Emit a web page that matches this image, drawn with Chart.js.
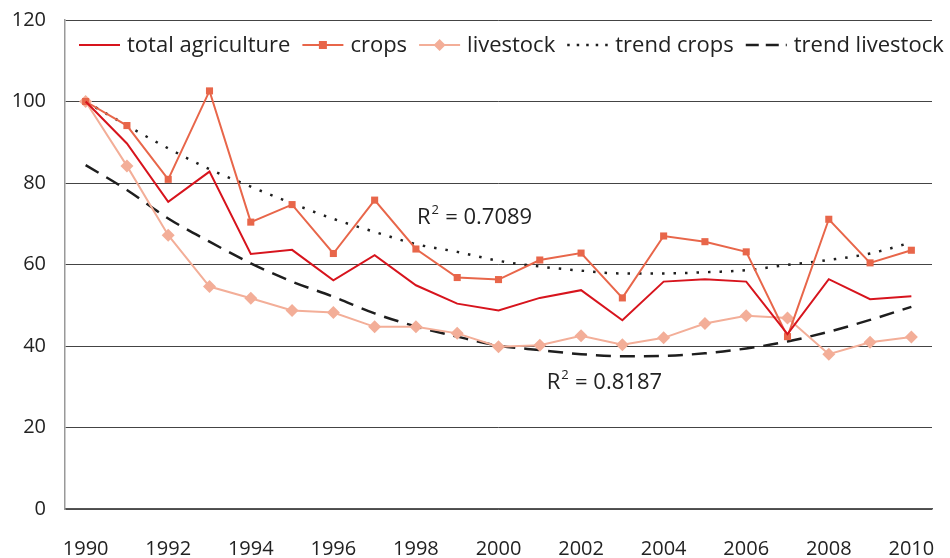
<!DOCTYPE html>
<html>
<head>
<meta charset="utf-8">
<script src="https://cdn.jsdelivr.net/npm/chart.js@4.4.0/dist/chart.umd.min.js"></script>
<style>
  html, body { margin: 0; padding: 0; background: #fff; }
  #wrap { width: 950px; height: 558px; }
</style>
</head>
<body>
<div id="wrap"><canvas id="line-chart"></canvas></div>
<script>
// Chart data
var years = ['1990', '1991', '1992', '1993', '1994', '1995', '1996', '1997', '1998', '1999', '2000',
             '2001', '2002', '2003', '2004', '2005', '2006', '2007', '2008', '2009', '2010'];
var totalAgriculture = [100, 89.7, 75.4, 82.8, 62.6, 63.6, 56.1, 62.3, 54.9, 50.4, 48.7,
                        51.8, 53.7, 46.3, 55.8, 56.4, 55.8, 42.9, 56.4, 51.5, 52.2];
var crops = [100, 94.1, 80.9, 102.6, 70.4, 74.7, 62.7, 75.8, 63.8, 56.8, 56.3,
             61.1, 62.8, 51.8, 67.0, 65.6, 63.1, 42.3, 71.1, 60.4, 63.5];
var livestock = [100, 84.2, 67.2, 54.6, 51.7, 48.7, 48.2, 44.7, 44.7, 43.1, 39.8,
                 40.2, 42.5, 40.3, 42.0, 45.5, 47.4, 46.9, 38.0, 40.9, 42.2];
var trendCrops = [100, 94.1, 88.5, 83.4, 79.1, 75.0, 71.2, 68.0, 65.0, 63.1, 60.9,
                  59.5, 58.5, 57.8, 57.8, 58.1, 58.6, 59.9, 61.1, 62.7, 65.4];
var trendLivestock = [84.4, 78.3, 71.3, 65.6, 60.3, 55.8, 52.1, 48.0, 44.8, 42.3, 40.1,
                      39.0, 38.0, 37.5, 37.6, 38.2, 39.4, 41.1, 43.5, 46.4, 49.6];
var yTicks = [0, 20, 40, 60, 80, 100, 120];
var r2Crops = '0.7089';
var r2Livestock = '0.8187';

var FONT = '"Open Sans", sans-serif';
var RED = '#d7141d', CROPS = '#e8664a', LIVE = '#f3ae98', TREND = '#1e1e1e';

// legend drawn inside the plot, one row
var legendItems = [
    { text: 'total agriculture', color: RED, dash: [], marker: null },
    { text: 'crops', color: CROPS, dash: [], marker: 'square' },
    { text: 'livestock', color: LIVE, dash: [], marker: 'diamond' },
    { text: 'trend crops', color: TREND, dash: [2.5, 7], marker: null },
    { text: 'trend livestock', color: TREND, dash: [13, 7], marker: null }
];

var legendPlugin = {
    id: 'inLegend',
    afterDraw: function(chart) {
        var ctx = chart.ctx;
        var x = 79, y = 45;
        ctx.save();
        ctx.font = '22px ' + FONT;
        ctx.textBaseline = 'middle';
        legendItems.forEach(function(it) {
            ctx.strokeStyle = it.color;
            ctx.lineWidth = it.dash.length ? 2.5 : 2;
            ctx.setLineDash(it.dash);
            ctx.beginPath();
            ctx.moveTo(x, y);
            ctx.lineTo(x + 41, y);
            ctx.stroke();
            ctx.setLineDash([]);
            ctx.fillStyle = it.color;
            if (it.marker === 'square') {
                ctx.fillRect(x + 20.5 - 4, y - 4, 8, 8);
            } else if (it.marker === 'diamond') {
                ctx.beginPath();
                ctx.moveTo(x + 20.5, y - 6);
                ctx.lineTo(x + 26.5, y);
                ctx.lineTo(x + 20.5, y + 6);
                ctx.lineTo(x + 14.5, y);
                ctx.closePath();
                ctx.fill();
            }
            ctx.fillStyle = '#222';
            ctx.fillText(it.text, x + 48, y + 1);
            x += 48 + ctx.measureText(it.text).width + 12;
        });
        ctx.restore();
    }
};

// R squared labels for the trend lines
var r2Plugin = {
    id: 'r2Labels',
    afterDraw: function(chart) {
        var ctx = chart.ctx;
        var xs = chart.scales.x, ys = chart.scales.y;
        function label(idx, val, txt, dx) {
            var px = xs.getPixelForValue(idx) + dx;
            var py = ys.getPixelForValue(val);
            ctx.fillStyle = '#222';
            ctx.textBaseline = 'alphabetic';
            ctx.font = '22px ' + FONT;
            ctx.fillText('R', px, py + 8);
            var w = ctx.measureText('R').width;
            ctx.font = '13px ' + FONT;
            ctx.fillText('2', px + w + 1, py - 2);
            ctx.font = '22px ' + FONT;
            ctx.fillText(' = ' + txt, px + w + 9, py + 8);
        }
        ctx.save();
        label(8, 72, r2Crops, 1);
        label(11, 31.5, r2Livestock, 7);
        ctx.restore();
    }
};

var ctx = document.getElementById('line-chart');

var chartData = {
    labels: years,
    datasets: [{
        label: 'total agriculture',
        data: totalAgriculture,
        borderColor: RED,
        borderWidth: 2,
        pointRadius: 0,
        tension: 0
    }, {
        label: 'crops',
        data: crops,
        borderColor: CROPS,
        backgroundColor: CROPS,
        borderWidth: 2,
        pointStyle: 'rect',
        pointRadius: 5,
        pointBorderWidth: 0,
        tension: 0
    }, {
        label: 'livestock',
        data: livestock,
        borderColor: LIVE,
        backgroundColor: LIVE,
        borderWidth: 2,
        pointStyle: 'rectRot',
        pointRadius: 6.5,
        pointBorderWidth: 0,
        tension: 0
    }, {
        label: 'trend crops',
        data: trendCrops,
        borderColor: TREND,
        borderWidth: 2.5,
        borderDash: [2.5, 9],
        pointRadius: 0,
        cubicInterpolationMode: 'monotone'
    }, {
        label: 'trend livestock',
        data: trendLivestock,
        borderColor: TREND,
        borderWidth: 2.5,
        borderDash: [15, 9],
        pointRadius: 0,
        cubicInterpolationMode: 'monotone'
    }]
};

var chartOptions = {
    responsive: true,
    maintainAspectRatio: false,
    animation: false,
    layout: { padding: { top: 20, right: 18, left: 0, bottom: 0 } },
    plugins: {
        legend: { display: false },
        tooltip: { enabled: false }
    },
    scales: {
        x: {
            offset: true,
            grid: { display: false, drawTicks: true, tickLength: 23 },
            border: { display: true, color: '#555', width: 1.5 },
            ticks: {
                autoSkip: false,
                maxRotation: 0,
                padding: 5,
                color: '#222',
                font: { family: FONT, size: 20 },
                callback: function(v, i) { return i % 2 === 0 ? years[i] : ''; }
            },
            afterFit: function(s) { s.height = 49; }
        },
        y: {
            min: yTicks[0],
            max: yTicks[yTicks.length - 1],
            afterBuildTicks: function(s) {
                s.ticks = yTicks.map(function(v) { return { value: v }; });
            },
            grid: { color: '#444', lineWidth: 1, drawTicks: true, tickLength: 15, tickColor: 'rgba(0,0,0,0)' },
            border: { display: true, color: '#999', width: 1.5 },
            ticks: {
                padding: 4,
                color: '#222',
                font: { family: FONT, size: 20 }
            },
            afterFit: function(s) { s.width = 65; }
        }
    }
};

var config = {
    type: 'line',
    data: chartData,
    options: chartOptions,
    plugins: [legendPlugin, r2Plugin]
};

var lineChart = new Chart(ctx, config);
</script>
</body>
</html>
